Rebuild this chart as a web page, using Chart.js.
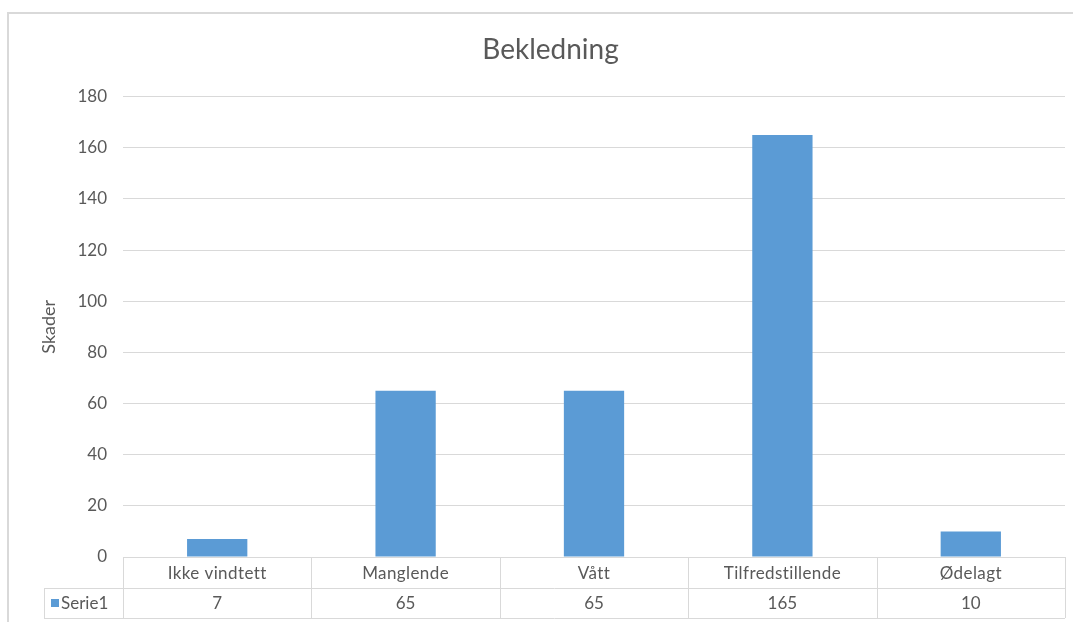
<!DOCTYPE html>
<html>
<head>
<meta charset="utf-8">
<script src="https://cdn.jsdelivr.net/npm/chart.js@4/dist/chart.umd.min.js"></script>
<style>
  html, body { margin: 0; padding: 0; background: #fff; }
  #wrap { width: 1073px; height: 622px; position: relative; }
</style>
</head>
<body>
<div id="wrap"><canvas id="chart"></canvas></div>
<script>
const categories = ['Ikke vindtett', 'Manglende', 'Vått', 'Tilfredstillende', 'Ødelagt'];
const seriesName = 'Serie1';
const seriesValues = [7, 65, 65, 165, 10];
const yTicks = [0, 20, 40, 60, 80, 100, 120, 140, 160, 180];

const FONT = 'Lato, "Open Sans", sans-serif';
const TEXT = '#595959';
const LINE = '#d9d9d9';
const BAR = '#5b9bd5';

// frame around the whole chart + data table under the plot
const tablePlugin = {
    id: 'dataTable',
    beforeDraw(chart) {
        const ctx = chart.ctx;
        ctx.save();
        ctx.strokeStyle = LINE;
        ctx.lineWidth = 2;
        ctx.beginPath();
        ctx.moveTo(8, 640);
        ctx.lineTo(8, 13);
        ctx.lineTo(1080, 13);
        ctx.stroke();
        ctx.restore();
    },
    afterDraw(chart) {
        const ctx = chart.ctx;
        const x = chart.scales.x;
        const area = chart.chartArea;
        const top = area.bottom;
        const mid = top + 31;
        const bottom = top + 61;
        const legendLeft = 44;
        const colW = (area.right - area.left) / categories.length;

        ctx.save();
        ctx.strokeStyle = LINE;
        ctx.lineWidth = 1;
        ctx.beginPath();
        ctx.moveTo(area.left, top + 0.5);
        ctx.lineTo(area.right, top + 0.5);
        ctx.moveTo(legendLeft, mid + 0.5);
        ctx.lineTo(area.right, mid + 0.5);
        ctx.moveTo(legendLeft, bottom + 0.5);
        ctx.lineTo(area.right, bottom + 0.5);
        ctx.moveTo(legendLeft + 0.5, mid);
        ctx.lineTo(legendLeft + 0.5, bottom);
        for (let i = 0; i <= categories.length; i++) {
            const cx = Math.round(area.left + i * colW) + 0.5;
            ctx.moveTo(cx, top);
            ctx.lineTo(cx, bottom);
        }
        ctx.stroke();

        ctx.fillStyle = TEXT;
        ctx.font = '17px ' + FONT;
        ctx.textAlign = 'center';
        ctx.textBaseline = 'middle';
        categories.forEach((c, i) => {
            const cx = x.getPixelForValue(i);
            ctx.letterSpacing = '0.4px';
            ctx.fillText(c, cx, (top + mid) / 2 + 1);
            ctx.letterSpacing = '0px';
            ctx.fillText(String(seriesValues[i]), cx, (mid + bottom) / 2 + 1);
        });

        // legend key
        ctx.fillStyle = BAR;
        ctx.fillRect(51, (mid + bottom) / 2 - 4, 8, 8);
        ctx.fillStyle = TEXT;
        ctx.textAlign = 'left';
        ctx.fillText(seriesName, 61, (mid + bottom) / 2 + 1);
        ctx.restore();
    }
};

new Chart(document.getElementById('chart'), {
    type: 'bar',
    data: {
        labels: categories,
        datasets: [{
            label: seriesName,
            data: seriesValues,
            backgroundColor: BAR,
            borderWidth: 0,
            categoryPercentage: 1,
            barPercentage: 0.32
        }]
    },
    options: {
        responsive: true,
        maintainAspectRatio: false,
        animation: false,
        layout: { padding: { top: 0, left: 36, right: 8, bottom: 65 } },
        plugins: {
            legend: { display: false },
            tooltip: { enabled: false },
            title: {
                display: true,
                text: 'Bekledning',
                color: TEXT,
                font: { family: FONT, size: 28, weight: 'normal' },
                padding: { top: 33, bottom: 30 }
            }
        },
        scales: {
            x: { display: false },
            y: {
                min: 0,
                max: 180,
                afterBuildTicks: s => { s.ticks = yTicks.map(v => ({ value: v })); },
                afterFit: s => { s.width = 87; },
                border: { display: false },
                grid: { color: LINE, drawTicks: false },
                ticks: {
                    color: TEXT,
                    padding: 16,
                    font: { family: FONT, size: 17 }
                },
                title: {
                    display: true,
                    text: 'Skader',
                    color: TEXT,
                    font: { family: FONT, size: 18 },
                    padding: { top: 2, bottom: 0 }
                }
            }
        }
    },
    plugins: [tablePlugin]
});
</script>
</body>
</html>
